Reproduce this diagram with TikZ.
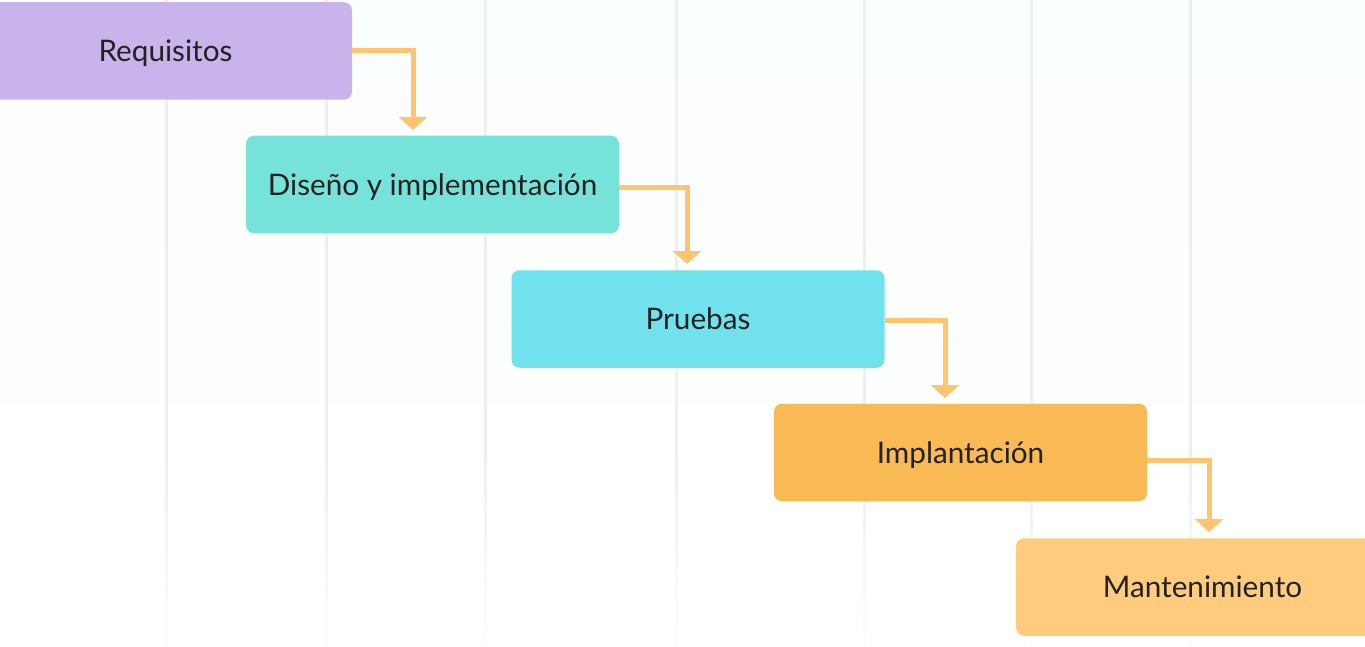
\documentclass[tikz,border=0pt]{standalone}
\usepackage{fontspec}
\setmainfont{Lato}
\usetikzlibrary{arrows.meta}
\definecolor{bgc}{HTML}{FBFEFE}
\definecolor{gridc}{HTML}{EEEFF1}
\definecolor{reqc}{HTML}{C8B4EA}
\definecolor{disc}{HTML}{76E3DA}
\definecolor{pruc}{HTML}{71E1EC}
\definecolor{impc}{HTML}{F9B955}
\definecolor{manc}{HTML}{FFCB7D}
\definecolor{arrc}{HTML}{FFC46D}
\definecolor{txtc}{HTML}{222222}
\tikzset{
  stagebox/.style={rectangle, rounded corners=8pt, draw=none, inner sep=0pt,
    minimum width=373pt, minimum height=97.5pt, text=txtc,
    font=\fontsize{29.7}{34}\selectfont, text height=21.3pt, text depth=0pt},
  flowarrow/.style={draw=arrc, line width=5pt, line join=miter,
    -{Triangle[width=28pt,length=13pt]}},
}
\begin{document}
\begin{tikzpicture}[x=1pt,y=-1pt]
\useasboundingbox (0,0) rectangle (1365,647);
\shade[top color=bgc,bottom color=white] (0,0) rectangle (1365,647);
\foreach \gx in {166,326,485,676,864,1031,1190}{
  \fill[gridc] (\gx-1.5,0) rectangle (\gx+1.5,451);
  \foreach \k in {0,...,19}{
    \pgfmathsetmacro{\pc}{100-5*\k}
    \fill[gridc!\pc!bgc] (\gx-1.5,450+10*\k) rectangle (\gx+1.5,461+10*\k);
  }
}
\node[stagebox, fill=reqc] (req) at (165.5,51) {Requisitos};
\node[stagebox, fill=disc] (dis) at (432.5,184.5) {Diseño y implementación};
\node[stagebox, fill=pruc] (pru) at (698,319) {Pruebas};
\node[stagebox, fill=impc] (imp) at (960.5,452.5) {Implantación};
\node[stagebox, fill=manc] (man) at (1202.5,587) {Mantenimiento};
\coordinate (t1) at (413,130);
\coordinate (t2) at (687,264);
\coordinate (t3) at (945,398);
\coordinate (t4) at (1209,532);
\draw[flowarrow] (req.east) -| (t1);
\draw[flowarrow] ([yshift=-3.5pt]dis.east) -| (t2);
\draw[flowarrow] ([yshift=-1.5pt]pru.east) -| (t3);
\draw[flowarrow] ([yshift=-8pt]imp.east) -| (t4);
\end{tikzpicture}
\end{document}
